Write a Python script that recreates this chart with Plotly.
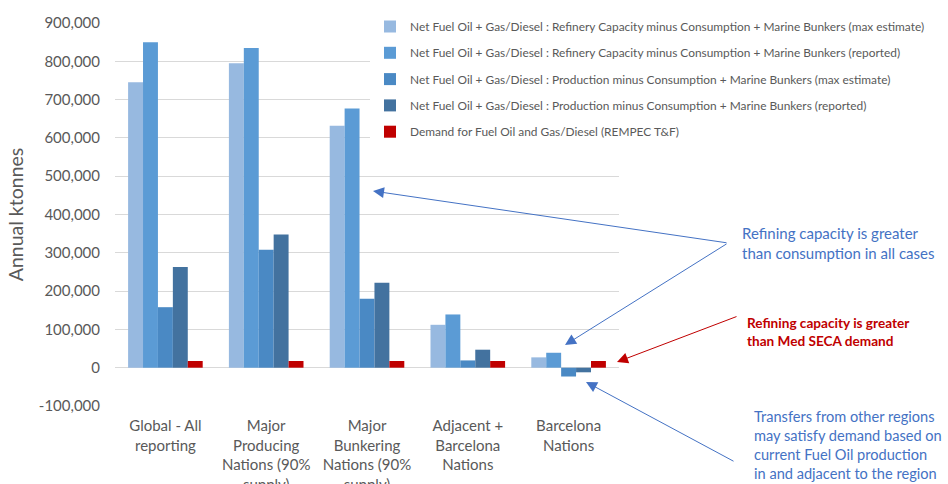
import plotly.graph_objects as go

categories = [
    "Global - All<br>reporting",
    "Major<br>Producing<br>Nations (90%<br>supply)",
    "Major<br>Bunkering<br>Nations (90%<br>supply)",
    "Adjacent +<br>Barcelona<br>Nations",
    "Barcelona<br>Nations",
]

series_names = [
    "Net Fuel Oil + Gas/Diesel : Refinery Capacity minus Consumption + Marine Bunkers (max estimate)",
    "Net Fuel Oil + Gas/Diesel : Refinery Capacity minus Consumption + Marine Bunkers (reported)",
    "Net Fuel Oil + Gas/Diesel : Production minus Consumption + Marine Bunkers (max estimate)",
    "Net Fuel Oil + Gas/Diesel : Production minus Consumption + Marine Bunkers (reported)",
    "Demand for Fuel Oil and Gas/Diesel (REMPEC T&F)",
]

refinery_max = [745000, 795000, 632000, 112000, 27000]
refinery_reported = [850000, 835000, 677000, 139000, 39000]
production_max = [158000, 308000, 180000, 19000, -23000]
production_reported = [263000, 348000, 222000, 47000, -12000]
demand = [17500, 17500, 17500, 17500, 17500]

series_values = [refinery_max, refinery_reported, production_max, production_reported, demand]
colors = ["#97B9E0", "#5B9BD5", "#4A89C4", "#43729F", "#C00000"]

y_tickvals = [-100000, 0, 100000, 200000, 300000, 400000, 500000, 600000, 700000, 800000, 900000]
y_ticktext = ["-100,000", "0", "100,000", "200,000", "300,000", "400,000",
              "500,000", "600,000", "700,000", "800,000", "900,000"]

FONT = "Lato"
GREY = "#595959"
BLUE = "#4472C4"
RED = "#C00000"

# layout geometry (pixels)
W, H = 948, 484
L, R, B = 115, 329, 78
PLOT_TOP = 23
PAPER_H = H - B          # margin top = 0
PW = W - L - R
DOM_TOP = (PAPER_H - PLOT_TOP) / PAPER_H


def px_x(px):
    return (px - L) / PW


def px_y(py):
    return (PAPER_H - py) / PAPER_H


fig = go.Figure()
for i, (name, vals, col) in enumerate(zip(series_names, series_values, colors)):
    fig.add_trace(go.Bar(
        x=categories, y=vals, name=name, marker_color=col,
        marker_line_width=0, legendgroup=f"g{i}",
    ))

annotations = []
annotations.append(dict(
    xref="paper", yref="paper", x=px_x(740), y=px_y(243), xanchor="left", yanchor="middle",
    align="left", showarrow=False,
    text="Refining capacity is greater<br>than consumption in all cases",
    font=dict(family=FONT, size=15, color=BLUE)))
annotations.append(dict(
    xref="paper", yref="paper", x=px_x(745), y=px_y(332), xanchor="left", yanchor="middle",
    align="left", showarrow=False,
    text="<b>Refining capacity is greater<br>than Med SECA demand</b>",
    font=dict(family=FONT, size=13.6, color=RED)))
annotations.append(dict(
    xref="paper", yref="paper", x=px_x(752), y=px_y(445), xanchor="left", yanchor="middle",
    align="left", showarrow=False,
    text="Transfers from other regions<br>may satisfy demand based on<br>current Fuel Oil production<br>in and adjacent to the region",
    font=dict(family=FONT, size=14.6, color=BLUE)))

# arrows: head pixel position, tail pixel position
arrow_specs = [
    ((373, 191), (728, 243), BLUE),
    ((565, 345), (728, 243), BLUE),
    ((617, 362), (738, 316), RED),
    ((586, 382), (735, 462), BLUE),
]
for (hx, hy), (tx, ty), col in arrow_specs:
    annotations.append(dict(
        xref="paper", yref="paper", x=px_x(hx), y=px_y(hy), ax=tx - hx, ay=ty - hy, text="",
        showarrow=True, arrowhead=2, arrowsize=2.2, arrowwidth=1, arrowcolor=col,
        standoff=0, startstandoff=0))

fig.update_layout(
    width=W, height=H,
    margin=dict(l=L, r=R, t=0, b=B, autoexpand=False),
    paper_bgcolor="white", plot_bgcolor="white",
    barmode="group", bargap=0.26, bargroupgap=0,
    font=dict(family=FONT, color=GREY),
    showlegend=True,
    legend=dict(
        x=px_x(370), y=px_y(12), xanchor="left", yanchor="top",
        bgcolor="white", font=dict(family=FONT, size=11.9, color=GREY),
        tracegroupgap=7.3, itemwidth=30,
    ),
    annotations=annotations,
)
fig.update_xaxes(
    showgrid=False, showline=False, zeroline=False, automargin=False,
    tickfont=dict(family=FONT, size=15, color=GREY), ticks="", ticklabelstandoff=9,
)
fig.update_yaxes(
    domain=[0, DOM_TOP], automargin=False,
    range=[-100000, 900000], tickvals=y_tickvals, ticktext=y_ticktext,
    showgrid=True, gridcolor="#D9D9D9", gridwidth=1,
    zeroline=True, zerolinecolor="#D9D9D9", zerolinewidth=1,
    showline=False, ticks="", ticklabelstandoff=14,
    tickfont=dict(family=FONT, size=15, color=GREY),
    title=dict(text="Annual ktonnes", font=dict(family=FONT, size=19.5, color=GREY), standoff=9),
)

fig.write_html("out.html", config={"displayModeBar": False},
               post_script="document.body.style.margin='0px';")
